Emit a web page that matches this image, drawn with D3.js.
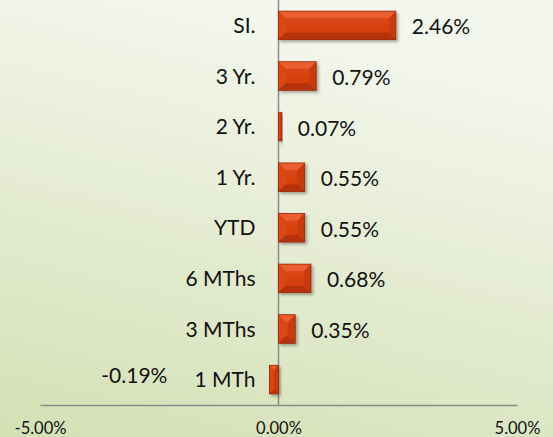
<!doctype HTML>
<html>
<head>
    <meta charset="utf-8">
    <script src="https://d3js.org/d3.v7.min.js"></script>
    <style>
        body { margin: 0; }
    </style>
</head>
<body>
<script>
    // returns by period, top to bottom
    var periods = ["SI.", "3 Yr.", "2 Yr.", "1 Yr.", "YTD", "6 MThs", "3 MThs", "1 MTh"];
    var returns = [2.46, 0.79, 0.07, 0.55, 0.55, 0.68, 0.35, -0.19];
    var xTicks = [-5, 0, 5];

    var canvasWidth = 553;
    var canvasHeight = 437;

    var pct = function(d) { return d.toFixed(2) + "%"; };

    var svg = d3.select("body").append("svg")
        .attr("width", canvasWidth)
        .attr("height", canvasHeight)
        .style("font-family", "Lato, 'Open Sans', sans-serif");

    var defs = svg.append("defs");

    var bg = defs.append("linearGradient")
        .attr("id", "bg")
        .attr("x1", "0.3").attr("y1", "0")
        .attr("x2", "0").attr("y2", "1");
    bg.append("stop").attr("offset", "0%").attr("stop-color", "#f3f6ec");
    bg.append("stop").attr("offset", "100%").attr("stop-color", "#d4e0b4");

    var face = defs.append("linearGradient")
        .attr("id", "face")
        .attr("x1", 0).attr("y1", 0).attr("x2", 0).attr("y2", 1);
    face.append("stop").attr("offset", "0%").attr("stop-color", "#e04a17");
    face.append("stop").attr("offset", "100%").attr("stop-color", "#cf3b0b");

    var shadow = defs.append("filter")
        .attr("id", "shadow")
        .attr("x", "-30%").attr("y", "-30%")
        .attr("width", "160%").attr("height", "160%");
    shadow.append("feDropShadow")
        .attr("dx", 2).attr("dy", 2)
        .attr("stdDeviation", 1.8)
        .attr("flood-color", "#4a4a3a")
        .attr("flood-opacity", 0.45);

    svg.append("rect")
        .attr("width", canvasWidth)
        .attr("height", canvasHeight)
        .attr("fill", "url(#bg)");

    var data = periods.map(function(p, i) {
        return { period: p, value: returns[i] };
    });

    var xScale = d3.scaleLinear().domain([-5, 5]).range([40, 517]);
    var yScale = d3.scaleBand().domain(periods).range([0, 405])
        .paddingInner(0.436).paddingOuter(0.22);

    var axisY = yScale.range()[1];

    // zero line
    svg.append("line")
        .attr("x1", xScale(0)).attr("x2", xScale(0))
        .attr("y1", 0).attr("y2", axisY)
        .attr("stroke", "#8a8a8a")
        .attr("stroke-width", 1.5);

    // x axis
    var xAxis = svg.append("g")
        .attr("transform", "translate(0," + axisY + ")")
        .call(d3.axisBottom(xScale)
            .tickValues(xTicks)
            .tickSize(0)
            .tickPadding(17)
            .tickFormat(pct));
    xAxis.select(".domain")
        .attr("stroke", "#8a8a8a")
        .attr("stroke-width", 1.5);
    xAxis.selectAll("text")
        .attr("font-size", "16.5px")
        .attr("font-family", "Lato, 'Open Sans', sans-serif")
        .attr("fill", "#111");

    // bars with bevel
    var bars = svg.selectAll(".bar")
        .data(data)
        .enter().append("g")
        .attr("class", "bar")
        .attr("filter", "url(#shadow)");

    function pts(a) { return a.map(function(p) { return p.join(","); }).join(" "); }

    bars.each(function(d) {
        var g = d3.select(this);
        var x0 = Math.min(xScale(0), xScale(d.value));
        var x1 = Math.max(xScale(0), xScale(d.value));
        var y0 = yScale(d.period);
        var y1 = y0 + yScale.bandwidth();
        var b = Math.min(7, (x1 - x0) / 2, (y1 - y0) / 2);

        g.append("rect")
            .attr("x", x0).attr("y", y0)
            .attr("width", x1 - x0).attr("height", y1 - y0)
            .attr("fill", "url(#face)");
        // top bevel
        g.append("polygon")
            .attr("points", pts([[x0, y0], [x1, y0], [x1 - b, y0 + b], [x0 + b, y0 + b]]))
            .attr("fill", "#e95f30");
        // left bevel
        g.append("polygon")
            .attr("points", pts([[x0, y0], [x0 + b, y0 + b], [x0 + b, y1 - b], [x0, y1]]))
            .attr("fill", "#dc4617");
        // right bevel
        g.append("polygon")
            .attr("points", pts([[x1, y0], [x1, y1], [x1 - b, y1 - b], [x1 - b, y0 + b]]))
            .attr("fill", "#c93a0c");
        // bottom bevel
        g.append("polygon")
            .attr("points", pts([[x0, y1], [x1, y1], [x1 - b, y1 - b], [x0 + b, y1 - b]]))
            .attr("fill", "#b5330a");
        g.append("rect")
            .attr("x", x0).attr("y", y0)
            .attr("width", x1 - x0).attr("height", y1 - y0)
            .attr("fill", "none")
            .attr("stroke", "#9a2a07")
            .attr("stroke-width", 0.8);
    });

    // category labels
    svg.selectAll(".cat")
        .data(data)
        .enter().append("text")
        .attr("class", "cat")
        .attr("x", xScale(0) - 23)
        .attr("y", function(d) { return yScale(d.period) + yScale.bandwidth() / 2; })
        .attr("dy", "0.36em")
        .attr("text-anchor", "end")
        .attr("font-size", "21px")
        .attr("fill", "#111")
        .text(function(d) { return d.period; });

    // value labels
    svg.selectAll(".val")
        .data(data)
        .enter().append("text")
        .attr("class", "val")
        .attr("x", function(d) {
            return d.value >= 0 ? xScale(d.value) + 16 : xScale(d.value) - 102;
        })
        .attr("y", function(d) {
            var c = yScale(d.period) + yScale.bandwidth() / 2;
            return d.value >= 0 ? c + 1.5 : c - 4;
        })
        .attr("dy", "0.36em")
        .attr("text-anchor", function(d) { return d.value >= 0 ? "start" : "end"; })
        .attr("font-size", "21px")
        .attr("fill", "#111")
        .text(function(d) { return pct(d.value); });
</script>
</body>
</html>
